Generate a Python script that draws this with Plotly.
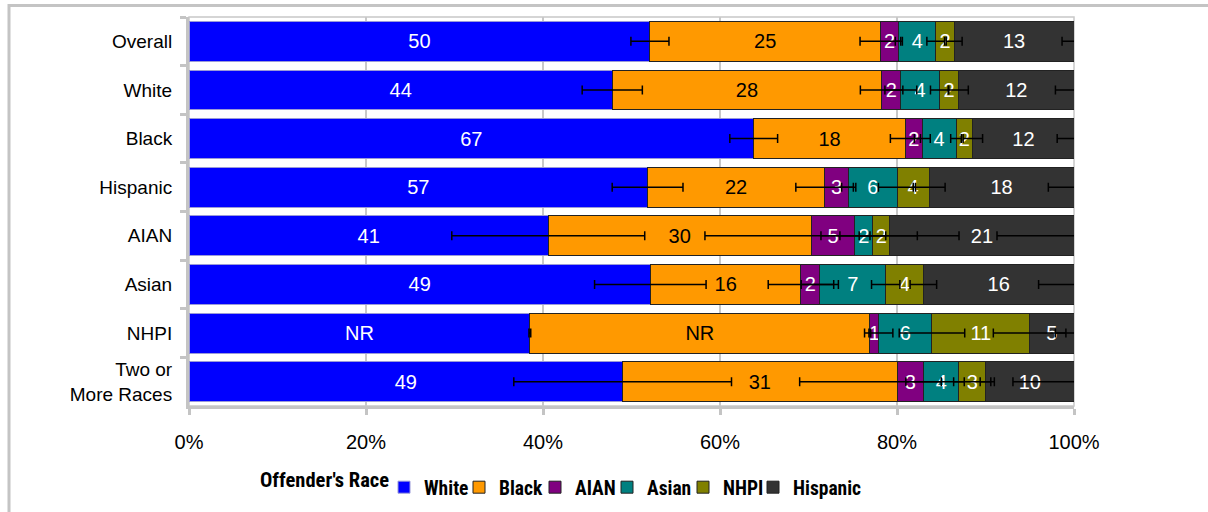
import plotly.graph_objects as go

# Victim groups (rows, top to bottom)
groups = ["Overall", "White", "Black", "Hispanic", "AIAN", "Asian", "NHPI",
          "Two or<br>More Races"]

# Offender's race categories
races = ["White", "Black", "AIAN", "Asian", "NHPI", "Hispanic"]

# Reported percentages by offender's race (NR cells carry an estimated share)
white_pct = [50, 44, 67, 57, 41, 49, 38.4, 49]
black_pct = [25, 28, 18, 22, 30, 16, 38.3, 31]
aian_pct = [2, 2, 2, 3, 5, 2, 1, 3]
asian_pct = [4, 4, 4, 6, 2, 7, 6, 4]
nhpi_pct = [2, 2, 2, 4, 2, 4, 11, 3]
hisp_pct = [13, 12, 12, 18, 21, 16, 5, 10]

# Labels shown on the segments
white_lbl = ["50", "44", "67", "57", "41", "49", "NR", "49"]
black_lbl = ["25", "28", "18", "22", "30", "16", "NR", "31"]

# Half-width of the error bars (percentage points of the row)
white_err = [2.15, 3.4, 2.7, 4.0, 10.9, 6.3, 0.1, 12.3]
black_err = [2.3, 2.4, 1.7, 3.25, 12.0, 3.7, 0.1, 11.0]
aian_err = [0.4, 1.8, 0.9, 0.8, 1.7, 2.1, 1.6, 2.0]
asian_err = [1.0, 1.0, 0.6, 2.1, 1.5, 1.6, 3.7, 0.6]
nhpi_err = [0.9, 1.1, 1.1, 1.8, 7.8, 1.5, 4.1, 0.6]
hisp_err = [1.35, 2.1, 1.9, 2.9, 8.7, 4.0, 2.1, 6.9]

x_ticks = [0, 20, 40, 60, 80, 100]
x_tick_text = ["0%", "20%", "40%", "60%", "80%", "100%"]

colors = ["#0000FF", "#FF9900", "#800080", "#008080", "#808000", "#333333"]
text_colors = ["white", "black", "white", "white", "white", "white"]
line_colors = ["#9a9ad8", "#222222", "#222222", "#222222", "#222222", "#222222"]
# legend entry widths (px) so the keys sit close together
legend_widths = [30, 31, 27, 31, 25, 75]

values = [white_pct, black_pct, aian_pct, asian_pct, nhpi_pct, hisp_pct]
errors = [white_err, black_err, aian_err, asian_err, nhpi_err, hisp_err]
labels = [white_lbl, black_lbl] + [[str(v) for v in vals] for vals in values[2:]]

# Each row is scaled to 100%
totals = [sum(col) for col in zip(*values)]
shares = [[v / t * 100 for v, t in zip(vals, totals)] for vals in values]

FONT = "Liberation Sans, Arial, sans-serif"
NARROW = "Liberation Sans Narrow, Arial Narrow, Roboto Condensed, Liberation Sans, Arial"

fig = go.Figure()

for race, share, lbl, col, tcol, lcol, lw in zip(races, shares, labels, colors,
                                                  text_colors, line_colors,
                                                  legend_widths):
    fig.add_trace(go.Bar(
        y=groups, x=share, name=race, orientation="h",
        marker=dict(color=col, line=dict(color=lcol, width=1)),
        text=lbl, textposition="inside", insidetextanchor="middle",
        constraintext="none", textangle=0,
        textfont=dict(family=FONT, size=20, color=tcol),
        legendwidth=lw, hoverinfo="skip",
    ))

# Error bars at the end of each segment, drawn above every bar
running = [0.0] * len(groups)
for race, share, err in zip(races, shares, errors):
    running = [r + s for r, s in zip(running, share)]
    fig.add_trace(go.Scatter(
        y=groups, x=running, mode="markers",
        marker=dict(size=1, opacity=0),
        error_x=dict(type="data", array=err, visible=True, color="black",
                     thickness=1.5, width=4.5),
        showlegend=False, hoverinfo="skip",
    ))

L, R, T, B = 189, 134, 17, 106
W, H = 1208, 512
pw, ph = W - L - R, H - T - B


def px(xp):
    return (xp - L) / pw


def py(yp):
    return (H - B - yp) / ph


shapes = [
    # thin border round the plotting area
    dict(type="rect", xref="paper", yref="paper", x0=0, x1=1, y0=0, y1=1,
         line=dict(color="#c8c8c8", width=1.5), layer="below"),
    # outer frame (top and left edges)
    dict(type="line", xref="paper", yref="paper", x0=px(8), x1=px(1210),
         y0=py(5.5), y1=py(5.5), line=dict(color="#c4c4c4", width=3)),
    dict(type="line", xref="paper", yref="paper", x0=px(9), x1=px(9),
         y0=py(4), y1=py(515), line=dict(color="#c4c4c4", width=3)),
]

annotations = [
    dict(text="Offender's Race", xref="paper", yref="paper",
         x=px(258), y=py(480), xanchor="left", yanchor="middle",
         showarrow=False,
         font=dict(family=NARROW, size=20.5, weight="bold", color="black")),
]

fig.update_layout(
    width=W, height=H,
    margin=dict(l=L, r=R, t=T, b=B, pad=0, autoexpand=False),
    barmode="stack", bargap=0.18,
    plot_bgcolor="white", paper_bgcolor="white",
    font=dict(family=FONT, size=20, color="black"),
    shapes=shapes, annotations=annotations,
    showlegend=True,
    legend=dict(
        orientation="h", xref="container", yref="container",
        x=384 / W, xanchor="left", y=1 - 468 / H, yanchor="top",
        font=dict(family=NARROW, size=19.5, weight="bold", color="black"),
        itemwidth=30, traceorder="normal", bgcolor="rgba(0,0,0,0)",
    ),
    xaxis=dict(
        range=[0, 100], tickvals=x_ticks, ticktext=x_tick_text,
        showgrid=True, gridcolor="#c8c8c8", gridwidth=1.5,
        showline=True, linecolor="#c4c4c4", linewidth=3,
        ticks="outside", ticklen=6, tickwidth=3, tickcolor="#c4c4c4",
        ticklabelstandoff=10, zeroline=False,
        tickfont=dict(family=FONT, size=20),
    ),
    yaxis=dict(
        autorange="reversed", categoryorder="array", categoryarray=groups,
        showgrid=False, showline=True, linecolor="#c4c4c4", linewidth=3,
        ticks="outside", ticklen=6, tickwidth=3, tickcolor="#c4c4c4",
        tickson="boundaries", ticklabelstandoff=10,
        tickfont=dict(family=FONT, size=19),
    ),
)

fig.write_html("out.html")
